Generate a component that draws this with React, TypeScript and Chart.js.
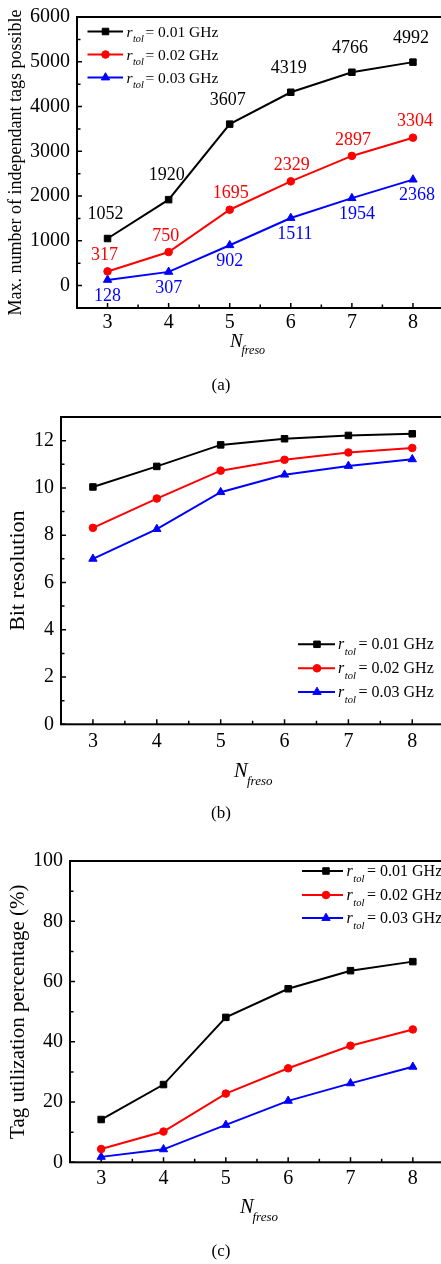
import React, { useEffect, useRef } from 'react';
import { Chart, registerables } from 'chart.js';

Chart.register(...registerables);

// ---------------- data ----------------
const N_LABELS = ['3', '4', '5', '6', '7', '8'];
const R_TOL = ['0.01', '0.02', '0.03'];

const TAGS_R001 = [1052, 1920, 3607, 4319, 4766, 4992];
const TAGS_R002 = [317, 750, 1695, 2329, 2897, 3304];
const TAGS_R003 = [128, 307, 902, 1511, 1954, 2368];

const BITS_R001 = [10.04, 10.91, 11.82, 12.08, 12.22, 12.29];
const BITS_R002 = [8.31, 9.55, 10.73, 11.19, 11.5, 11.69];
const BITS_R003 = [7.0, 8.26, 9.82, 10.56, 10.93, 11.21];

const UTIL_R001 = [14.2, 25.8, 48.1, 57.6, 63.6, 66.6];
const UTIL_R002 = [4.4, 10.2, 22.8, 31.2, 38.7, 44.1];
const UTIL_R003 = [1.8, 4.3, 12.4, 20.4, 26.2, 31.7];

const TAGS_TICKS = [0, 1000, 2000, 3000, 4000, 5000, 6000];
const BITS_TICKS = [0, 2, 4, 6, 8, 10, 12];
const UTIL_TICKS = [0, 20, 40, 60, 80, 100];

// ---------------- styles ----------------
const SERIF = '"Liberation Serif", "Times New Roman", serif';
const COLORS = ['#000000', '#ff0000', '#0000ff'];
const MARKERS = ['rect', 'circle', 'triangle'];
const RADII = [4.6, 3.8, 4.8];
const LABEL_DY = [-24, -16, 16];
const LABEL_DX = [
  [-2, -2, -2, -2, -2, -2],
  [-3, -3, 1, 1, 1, 2],
  [0, 0, 0, 4, 5, 4],
];

const CANVAS_W = 460;

type Panel = {
  top: number;
  height: number;
  area: { left: number; top: number; right: number; bottom: number };
  series: number[][];
  yMin: number;
  yMax: number;
  yTicks: number[];
  yTitle: string;
  yTitleSize: number;
  yTitlePad: number;
  tickPadX: number;
  legend: { x0: number; x1: number; mx: number; tx: number; eqx: number; rows: number[]; size: number };
  xTitle: { x: number; y: number; size: number; subX: number; subY: number; subSize: number };
  caption: { text: string; x: number; y: number };
  dataLabels: boolean;
};

const PANELS: Panel[] = [
  {
    top: 0,
    height: 400,
    area: { left: 77, top: 12, right: 443.5, bottom: 308 },
    series: [TAGS_R001, TAGS_R002, TAGS_R003],
    yMin: -500,
    yMax: 6000,
    yTicks: TAGS_TICKS,
    yTitle: 'Max. number of independant tags possible',
    yTitleSize: 18,
    yTitlePad: 7,
    tickPadX: 5,
    legend: { x0: 87.5, x1: 123, mx: 105.5, tx: 126.5, eqx: 145.5, rows: [31.5, 54.5, 77.5], size: 15.5 },
    xTitle: { x: 230, y: 346.5, size: 19, subX: 241.5, subY: 353.5, subSize: 12 },
    caption: { text: '(a)', x: 221, y: 386 },
    dataLabels: true,
  },
  {
    top: 400,
    height: 430,
    area: { left: 61, top: 415.7, right: 444.2, bottom: 724.3 },
    series: [BITS_R001, BITS_R002, BITS_R003],
    yMin: 0,
    yMax: 13,
    yTicks: BITS_TICKS,
    yTitle: 'Bit resolution',
    yTitleSize: 22,
    yTitlePad: 7,
    tickPadX: 7,
    legend: { x0: 298, x1: 335, mx: 317, tx: 338, eqx: 358.5, rows: [644.3, 668.3, 692], size: 16 },
    xTitle: { x: 234, y: 776.7, size: 20.5, subX: 247, subY: 785, subSize: 13 },
    caption: { text: '(b)', x: 221, y: 814 },
    dataLabels: false,
  },
  {
    top: 830,
    height: 434,
    area: { left: 70, top: 861, right: 444, bottom: 1162.3 },
    series: [UTIL_R001, UTIL_R002, UTIL_R003],
    yMin: 0,
    yMax: 100,
    yTicks: UTIL_TICKS,
    yTitle: 'Tag utilization percentage (%)',
    yTitleSize: 21,
    yTitlePad: 8,
    tickPadX: 6,
    legend: { x0: 302, x1: 343, mx: 326, tx: 346.5, eqx: 367, rows: [871, 895, 918], size: 16 },
    xTitle: { x: 240, y: 1212.5, size: 20.5, subX: 252.5, subY: 1220.5, subSize: 13 },
    caption: { text: '(c)', x: 221, y: 1251.5 },
    dataLabels: false,
  },
];

function drawMarker(ctx: CanvasRenderingContext2D, kind: string, x: number, y: number, r: number, color: string) {
  ctx.save();
  ctx.fillStyle = color;
  ctx.strokeStyle = color;
  ctx.lineWidth = 1;
  ctx.beginPath();
  if (kind === 'rect') {
    const s = r * Math.SQRT1_2;
    ctx.rect(x - s, y - s, 2 * s, 2 * s);
  } else if (kind === 'circle') {
    ctx.arc(x, y, r, 0, Math.PI * 2);
  } else {
    let rad = 0;
    ctx.moveTo(x + Math.sin(rad) * r, y - Math.cos(rad) * r);
    rad += (2 * Math.PI) / 3;
    ctx.lineTo(x + Math.sin(rad) * r, y - Math.cos(rad) * r);
    rad += (2 * Math.PI) / 3;
    ctx.lineTo(x + Math.sin(rad) * r, y - Math.cos(rad) * r);
    ctx.closePath();
  }
  ctx.fill();
  ctx.stroke();
  ctx.restore();
}

function makeChart(canvas: HTMLCanvasElement, p: Panel) {
  const off = p.top;
  const datasets = p.series.map((vals, i) => ({
    label: `r_tol = ${R_TOL[i]} GHz`,
    data: vals,
    borderColor: COLORS[i],
    backgroundColor: COLORS[i],
    borderWidth: 2,
    pointStyle: MARKERS[i],
    pointRadius: RADII[i],
    pointBorderWidth: 1,
    pointBackgroundColor: COLORS[i],
    pointBorderColor: COLORS[i],
    tension: 0,
    clip: false as any,
  }));

  const decor = {
    id: 'decor',
    beforeDatasetsDraw(chart: any) {
      const { ctx, chartArea: a, scales } = chart;
      const x = scales.x;
      const y = scales.y;
      ctx.save();
      ctx.strokeStyle = '#000';
      ctx.lineWidth = 2;
      ctx.strokeRect(a.left, a.top, a.right - a.left, a.bottom - a.top);
      ctx.lineWidth = 1.5;
      ctx.beginPath();
      const step = p.yTicks[1] - p.yTicks[0];
      p.yTicks.forEach((v) => {
        const py = y.getPixelForValue(v);
        ctx.moveTo(a.left, py);
        ctx.lineTo(a.left + 5, py);
        const mv = v + step / 2;
        if (mv < p.yMax) {
          const pm = y.getPixelForValue(mv);
          ctx.moveTo(a.left, pm);
          ctx.lineTo(a.left + 3.5, pm);
        }
      });
      N_LABELS.forEach((_, i) => {
        const px = x.getPixelForValue(i);
        ctx.moveTo(px, a.bottom);
        ctx.lineTo(px, a.bottom - 5);
        if (i < N_LABELS.length - 1) {
          const pm = x.getPixelForValue(i + 0.5);
          ctx.moveTo(pm, a.bottom);
          ctx.lineTo(pm, a.bottom - 3.5);
        }
      });
      ctx.stroke();
      ctx.restore();
    },
    afterDatasetsDraw(chart: any) {
      const { ctx, scales } = chart;
      const x = scales.x;
      const y = scales.y;
      ctx.save();
      // data labels
      if (p.dataLabels) {
        ctx.font = `18px ${SERIF}`;
        ctx.textAlign = 'center';
        ctx.textBaseline = 'middle';
        p.series.forEach((vals, si) => {
          ctx.fillStyle = COLORS[si];
          vals.forEach((v, i) => {
            const px = x.getPixelForValue(i) + LABEL_DX[si][i];
            const py = y.getPixelForValue(v) + LABEL_DY[si];
            ctx.fillText(String(v), px, py);
          });
        });
      }
      // legend
      const L = p.legend;
      R_TOL.forEach((r, i) => {
        const ry = L.rows[i] - off;
        ctx.strokeStyle = COLORS[i];
        ctx.lineWidth = 2;
        ctx.beginPath();
        ctx.moveTo(L.x0, ry);
        ctx.lineTo(L.x1, ry);
        ctx.stroke();
        drawMarker(ctx, MARKERS[i], L.mx, ry, RADII[i], COLORS[i]);
        ctx.fillStyle = '#000';
        ctx.textAlign = 'left';
        ctx.textBaseline = 'alphabetic';
        ctx.font = `italic ${L.size}px ${SERIF}`;
        ctx.fillText('r', L.tx, ry + 5);
        const rw = ctx.measureText('r').width;
        ctx.font = `italic ${L.size * 0.66}px ${SERIF}`;
        ctx.fillText('tol', L.tx + rw + 0.5, ry + 10.5);
        ctx.font = `${L.size}px ${SERIF}`;
        ctx.fillText(`= ${r} GHz`, L.eqx, ry + 5);
      });
      // x title with subscript
      const T = p.xTitle;
      ctx.fillStyle = '#000';
      ctx.textAlign = 'left';
      ctx.textBaseline = 'alphabetic';
      ctx.font = `italic ${T.size}px ${SERIF}`;
      ctx.fillText('N', T.x, T.y - off);
      ctx.font = `italic ${T.subSize}px ${SERIF}`;
      ctx.fillText('freso', T.subX, T.subY - off);
      // caption
      ctx.font = `17px ${SERIF}`;
      ctx.textAlign = 'center';
      ctx.textBaseline = 'middle';
      ctx.fillText(p.caption.text, p.caption.x, p.caption.y - off);
      ctx.restore();
    },
  };

  return new Chart(canvas, {
    type: 'line',
    data: { labels: N_LABELS, datasets: datasets as any },
    options: {
      animation: false,
      responsive: false,
      maintainAspectRatio: false,
      devicePixelRatio: 1,
      layout: {
        padding: {
          top: p.area.top - off,
          right: CANVAS_W - p.area.right,
          left: 0,
          bottom: 0,
        },
      },
      plugins: {
        legend: { display: false },
        tooltip: { enabled: false },
        title: { display: false },
      },
      scales: {
        x: {
          type: 'category',
          offset: true,
          grid: { display: false, drawTicks: false },
          border: { display: false },
          ticks: {
            color: '#000',
            font: { family: SERIF, size: 20, lineHeight: 1 },
            padding: p.tickPadX,
            maxRotation: 0,
            autoSkip: false,
          },
          afterFit: (s: any) => {
            s.height = p.height - (p.area.bottom - off);
          },
        },
        y: {
          type: 'linear',
          min: p.yMin,
          max: p.yMax,
          grid: { display: false, drawTicks: false },
          border: { display: false },
          afterBuildTicks: (s: any) => {
            s.ticks = p.yTicks.map((v) => ({ value: v }));
          },
          ticks: {
            color: '#000',
            font: { family: SERIF, size: 20, lineHeight: 1 },
            padding: 7,
            callback: (v: any) => String(v),
          },
          title: {
            display: true,
            text: p.yTitle,
            color: '#000',
            font: { family: SERIF, size: p.yTitleSize, lineHeight: 1 },
            padding: { top: p.yTitlePad, bottom: 0 },
          },
          afterFit: (s: any) => {
            s.width = p.area.left;
          },
        },
      },
    },
    plugins: [decor],
  });
}

function PanelCanvas({ panel }: { panel: Panel }) {
  const ref = useRef<HTMLCanvasElement | null>(null);
  useEffect(() => {
    if (!ref.current) return;
    const chart = makeChart(ref.current, panel);
    return () => chart.destroy();
  }, [panel]);
  return (
    <canvas
      ref={ref}
      width={CANVAS_W}
      height={panel.height}
      style={{
        position: 'absolute',
        left: 0,
        top: panel.top,
        width: CANVAS_W,
        height: panel.height,
        display: 'block',
      }}
    />
  );
}

export default function App() {
  return (
    <div
      style={{
        position: 'absolute',
        left: 0,
        top: 0,
        width: 441,
        height: 1264,
        overflow: 'hidden',
        background: '#ffffff',
      }}
    >
      {PANELS.map((p, i) => (
        <PanelCanvas key={i} panel={p} />
      ))}
    </div>
  );
}
